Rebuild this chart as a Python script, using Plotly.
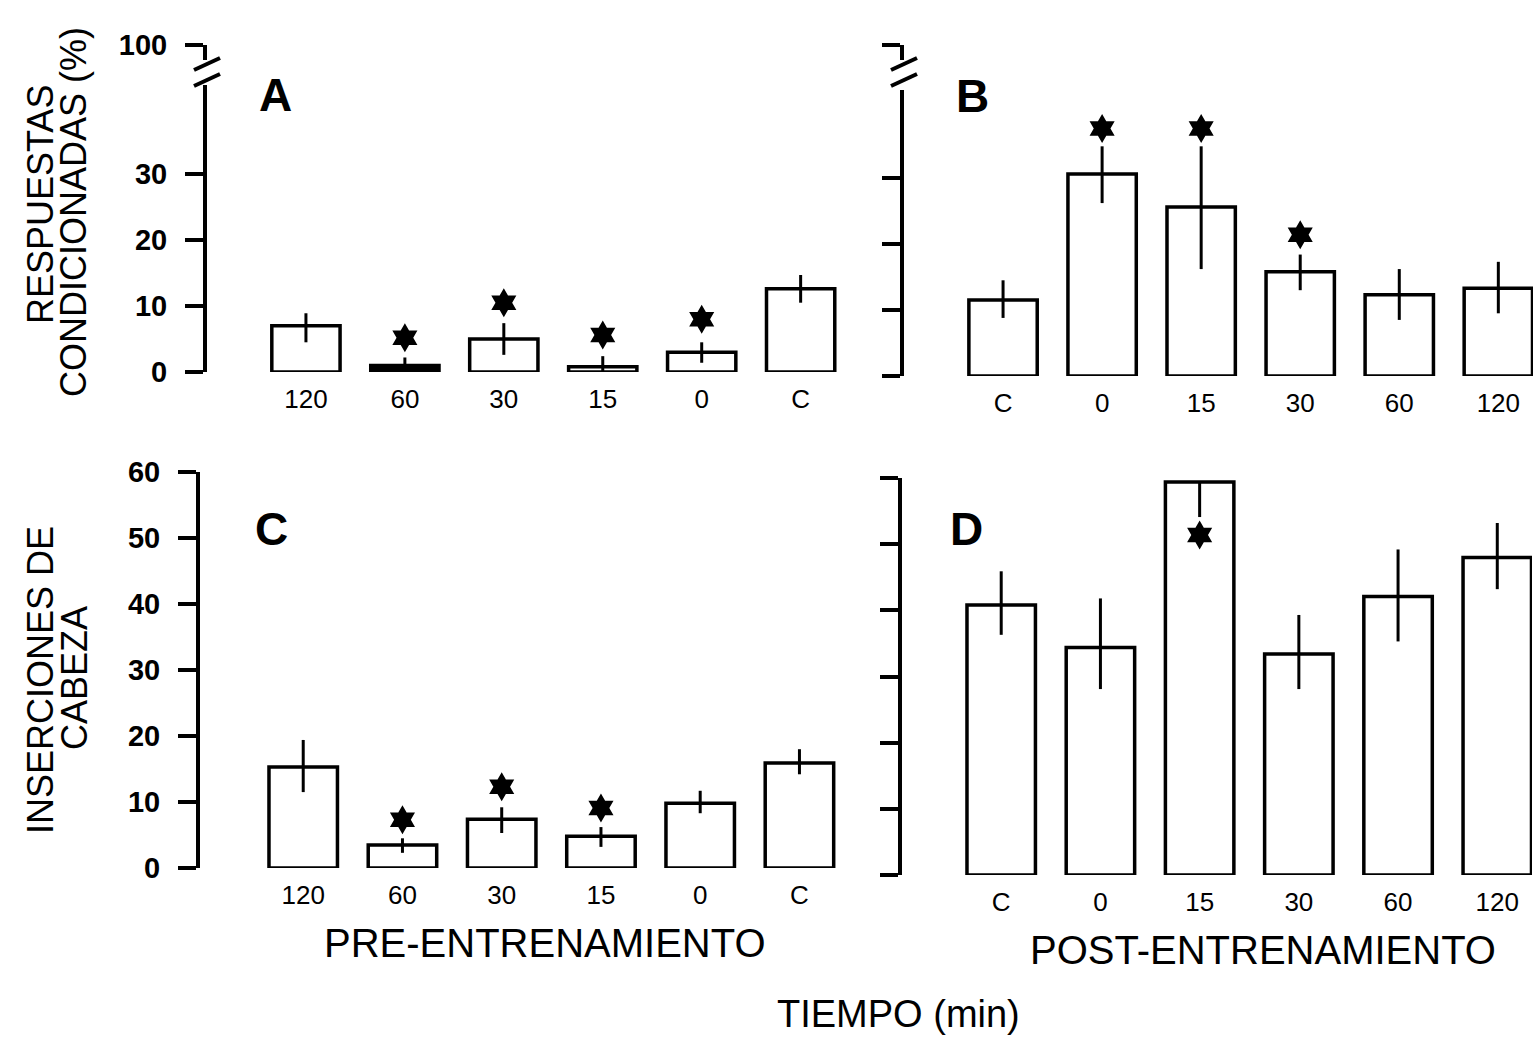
import plotly.graph_objects as go

W, H = 1538, 1042

# ---------------- data ----------------
pre_cats = ["120", "60", "30", "15", "0", "C"]
post_cats = ["C", "0", "15", "30", "60", "120"]

# Panel A: respuestas condicionadas (%), pre-entrenamiento
a_mean = [7.0, 1.0, 5.0, 0.8, 3.0, 12.6]
a_up = [1.9, 1.2, 2.4, 1.6, 1.5, 2.1]
a_down = [2.5, 0.5, 2.4, 0.8, 1.6, 2.1]
a_star = [None, 5.2, 10.5, 5.6, 8.0, None]

# Panel B: respuestas condicionadas (%), post-entrenamiento
b_mean = [11.5, 30.6, 25.6, 15.8, 12.3, 13.3]
b_up = [3.0, 4.2, 9.2, 2.6, 3.9, 4.0]
b_down = [2.7, 4.4, 9.4, 2.8, 3.8, 3.8]
b_star = [None, 37.5, 37.5, 21.4, None, None]

# Panel C: inserciones de cabeza, pre-entrenamiento
c_mean = [15.3, 3.5, 7.4, 4.8, 9.8, 15.9]
c_up = [4.1, 1.0, 1.8, 1.4, 1.9, 2.1]
c_down = [3.8, 1.2, 2.1, 1.6, 1.5, 1.7]
c_star = [None, 7.3, 12.3, 9.1, None, None]

# Panel D: inserciones de cabeza, post-entrenamiento
d_mean = [40.8, 34.4, 59.4, 33.4, 42.1, 48.0]
d_up = [5.1, 7.4, 0.0, 5.9, 7.1, 5.2]
d_down = [4.5, 6.3, 5.3, 5.3, 6.8, 4.8]
d_star = [None, None, 51.4, None, None, None]

ticks_resp = [0, 10, 20, 30]
ticks_ins = [0, 10, 20, 30, 40, 50, 60]

FONT = "Liberation Sans, Arial, sans-serif"

# ---------------- helpers ----------------
def px_x(p):
    return p / W

def px_y(p):
    return 1 - p / H

fig = go.Figure()

# the near-zero "60 min" bar of panel A is printed solid black in the original
fill_a = ["white", "black", "white", "white", "white", "white"]

panels = [
    ("x", "y", pre_cats, a_mean, a_up, a_down, a_star, fill_a),
    ("x2", "y2", post_cats, b_mean, b_up, b_down, b_star, "white"),
    ("x3", "y3", pre_cats, c_mean, c_up, c_down, c_star, "white"),
    ("x4", "y4", post_cats, d_mean, d_up, d_down, d_star, "white"),
]

for xa, ya, cats, mean, up, down, star, fill in panels:
    fig.add_trace(go.Bar(
        x=cats, y=mean, xaxis=xa, yaxis=ya, width=0.69,
        marker=dict(color=fill, line=dict(color="black", width=3.5)),
        error_y=dict(type="data", symmetric=False, array=up, arrayminus=down,
                     color="black", thickness=3, width=0),
        showlegend=False, hoverinfo="skip",
    ))
    fig.add_trace(go.Scatter(
        x=cats, y=star, xaxis=xa, yaxis=ya, mode="markers",
        marker=dict(symbol="hexagram", size=22, color="black", line=dict(width=0)),
        showlegend=False, hoverinfo="skip",
    ))

# dummy traces so the upper (broken) axis pieces render
fig.add_trace(go.Scatter(x=[pre_cats[0]], y=[None], xaxis="x", yaxis="y5",
                         mode="markers", showlegend=False, hoverinfo="skip"))
fig.add_trace(go.Scatter(x=[post_cats[0]], y=[None], xaxis="x2", yaxis="y6",
                         mode="markers", showlegend=False, hoverinfo="skip"))

def xaxis(dom_px, rng, cats, anchor):
    return dict(
        domain=[px_x(dom_px[0]), px_x(dom_px[1])], range=rng, type="category",
        categoryorder="array", categoryarray=cats, anchor=anchor,
        showline=False, showgrid=False, zeroline=False, ticks="",
        tickfont=dict(family=FONT, size=26, color="black"),
        ticklabelstandoff=9, fixedrange=True, automargin=False,
    )

def yaxis(dom_px, rng, tickvals, labels, anchor):
    return dict(
        domain=[px_y(dom_px[1]), px_y(dom_px[0])], range=rng, anchor=anchor,
        showline=True, linecolor="black", linewidth=4, showgrid=False, zeroline=False,
        ticks="outside", ticklen=18, tickwidth=4, tickcolor="black",
        tickvals=tickvals, showticklabels=labels,
        tickfont=dict(family=FONT, size=29, color="black", weight="bold"),
        ticklabelstandoff=12, fixedrange=True, automargin=False,
    )

fig.update_layout(
    template="none",
    width=W, height=H, margin=dict(l=0, r=0, t=0, b=0, pad=0, autoexpand=False),
    paper_bgcolor="white", plot_bgcolor="white", showlegend=False,
    xaxis=xaxis((207, 860), [-1.0, 5.6], pre_cats, "y"),
    xaxis2=xaxis((904, 1533), [-1.0, 5.35], post_cats, "y2"),
    xaxis3=xaxis((200, 859), [-1.04, 5.6], pre_cats, "y3"),
    xaxis4=xaxis((902, 1532), [-1.0, 5.35], post_cats, "y4"),
    yaxis=yaxis((85, 372), [0, (372 - 85) / 6.6], ticks_resp, True, "x"),
    yaxis2=yaxis((90, 376), [0, (376 - 90) / 6.6], ticks_resp, False, "x2"),
    yaxis3=yaxis((472, 868), [0, 60], ticks_ins, True, "x3"),
    yaxis4=yaxis((478, 875), [0, 60], ticks_ins, False, "x4"),
    yaxis5=yaxis((45, 60), [96, 100], [100], True, "x"),
    yaxis6=yaxis((45, 60), [96, 100], [100], False, "x2"),
    bargap=0.3,
)

# axis-break slashes
shapes = []
for cx in (207, 904):
    for cy in (64, 80):
        shapes.append(dict(type="line", xref="paper", yref="paper",
                           x0=px_x(cx - 13), y0=px_y(cy + 6),
                           x1=px_x(cx + 13), y1=px_y(cy - 6),
                           line=dict(color="black", width=4)))
fig.update_layout(shapes=shapes)

def ann(text, x, y, size, angle=0, weight="normal"):
    return dict(text=text, x=px_x(x), y=px_y(y), xref="paper", yref="paper",
                showarrow=False, xanchor="center", yanchor="middle",
                textangle=angle,
                font=dict(family=FONT, size=size, color="black", weight=weight))

annotations = [
    ann("A", 275, 95, 46, weight="bold"),
    ann("B", 972, 96, 46, weight="bold"),
    ann("C", 271, 529, 46, weight="bold"),
    ann("D", 966, 529, 46, weight="bold"),
    ann("RESPUESTAS", 40, 205, 36, -90),
    ann("CONDICIONADAS (%)", 74, 212, 36, -90),
    ann("INSERCIONES DE", 40, 680, 36, -90),
    ann("CABEZA", 74, 678, 36, -90),
    ann("PRE-ENTRENAMIENTO", 545, 943, 40),
    ann("POST-ENTRENAMIENTO", 1263, 950, 40),
    ann("TIEMPO (min)", 898, 1014, 38),
]
fig.update_layout(annotations=annotations)

post_js = ("document.documentElement.style.margin='0';"
           "document.body.style.margin='0';"
           "document.body.style.padding='0';"
           "document.body.style.overflow='hidden';"
           "var g=document.getElementById('{plot_id}');"
           "g.style.position='fixed';g.style.top='0px';g.style.left='0px';")

fig.write_html("out.html", include_plotlyjs=True,
               config={"displayModeBar": False}, post_script=post_js)
